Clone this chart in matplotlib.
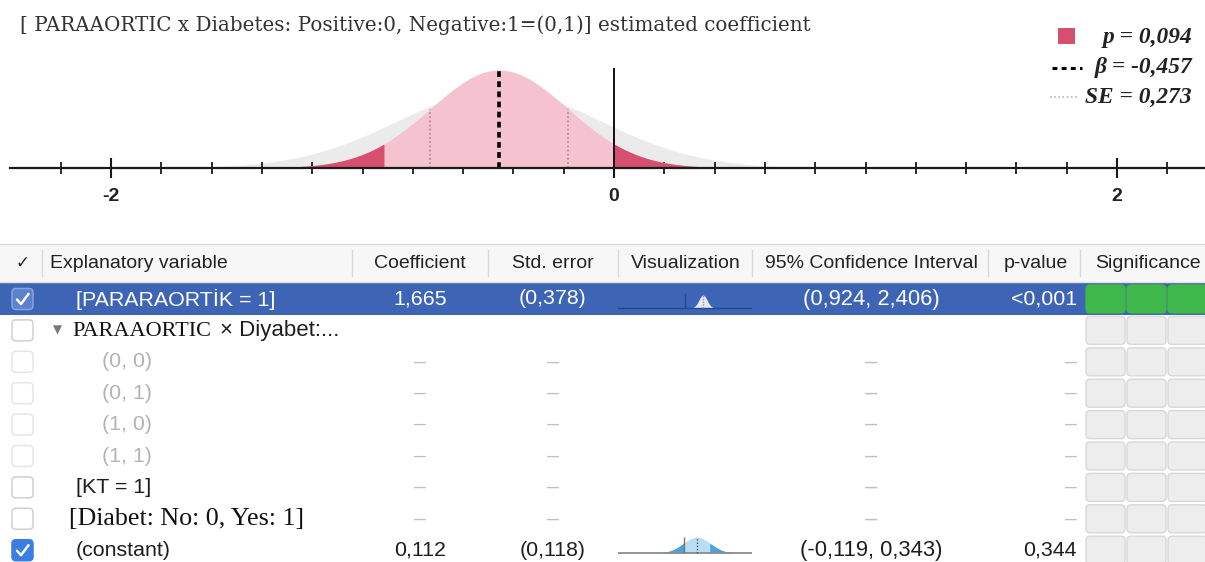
import numpy as np
import matplotlib
matplotlib.use("Agg")
import matplotlib.pyplot as plt
from matplotlib.patches import FancyBboxPatch, Rectangle
from matplotlib.ticker import FixedLocator, NullFormatter

W, H = 1205, 562

# ---------------- data ----------------
title_text = "[ PARAAORTIC x Diabetes: Positive:0, Negative:1=(0,1)] estimated coefficient"
beta = -0.457
se = 0.273
p_value = 0.094
legend_labels = ["p = 0,094", "\u03b2 = -0,457", "SE = 0,273"]
major_ticks = [-2, 0, 2]
major_tick_labels = ["-2", "0", "2"]
minor_ticks = [-2.2, -1.8, -1.6, -1.4, -1.2, -1.0, -0.8, -0.6, -0.4, -0.2,
               0.2, 0.4, 0.6, 0.8, 1.0, 1.2, 1.4, 1.6, 1.8, 2.2]
gray_sd = 0.40          # width of the background (grey) distribution
gray_peak = 0.80        # its height relative to the pink peak

columns = ["Explanatory variable", "Coefficient", "Std. error", "Visualization",
           "95% Confidence Interval", "p-value", "Significance"]
variables = ["[PARARAORT\u0130K = 1]", "PARAAORTIC \u00d7 Diyabet:...", "(0, 0)", "(0, 1)",
             "(1, 0)", "(1, 1)", "[KT = 1]", "[Diabet: No: 0, Yes: 1]", "(constant)"]
coefficients = ["1,665", "", "\u2013", "\u2013", "\u2013", "\u2013", "\u2013", "\u2013", "0,112"]
std_errors = ["(0,378)", "", "\u2013", "\u2013", "\u2013", "\u2013", "\u2013", "\u2013", "(0,118)"]
conf_intervals = ["(0,924, 2,406)", "", "\u2013", "\u2013", "\u2013", "\u2013", "\u2013", "\u2013",
                  "(-0,119, 0,343)"]
p_values = ["<0,001", "", "\u2013", "\u2013", "\u2013", "\u2013", "\u2013", "\u2013", "0,344"]
checked = [True, False, False, False, False, False, False, False, True]
significance = [3, 0, 0, 0, 0, 0, 0, 0, 0]
viz_coef = {0: 1.665, 8: 0.112}
viz_se = {0: 0.378, 8: 0.118}
viz_xlim = {0: (-6.2, 6.2), 8: (-0.57, 0.59)}

# ---------------- styling ----------------
SANS = ["Liberation Sans", "DejaVu Sans"]
SERIF = ["Liberation Serif", "DejaVu Serif"]
PINK = "#f5c3cf"
DARK_PINK = "#d64f6e"
GRAY = "#ebebeb"
ROW_FS = 15.4

fig = plt.figure(figsize=(W / 100, H / 100), dpi=100)
fig.patch.set_facecolor("white")


def fx(px):
    return px / W


def fy(py):
    return 1 - py / H


# overlay axes in pixel coordinates (table, legend)
ov = fig.add_axes([0, 0, 1, 1])
ov.set_xlim(0, W)
ov.set_ylim(H, 0)
ov.axis("off")

# ---------------- top distribution chart ----------------
PX_UNIT = 251.5      # pixels per coefficient unit
ZERO_PX = 614
AXIS_PY = 168
PEAK_PX = 98.0
TOP_H = 230
ax = fig.add_axes([0, fy(TOP_H), 1, TOP_H / H])
ax.set_facecolor("none")
ax.set_xlim(-ZERO_PX / PX_UNIT, (W - ZERO_PX) / PX_UNIT)
ax.set_ylim((AXIS_PY - TOP_H) / PEAK_PX, AXIS_PY / PEAK_PX)

x = np.linspace(-2.44, 2.35, 3000)
pink = np.exp(-0.5 * ((x - beta) / se) ** 2)
grey = gray_peak * np.exp(-0.5 * ((x - beta) / gray_sd) ** 2)
ax.fill_between(x, 0, grey, color=GRAY, lw=0, zorder=1)
ax.fill_between(x, 0, pink, color=PINK, lw=0, zorder=2)
lo_crit = beta - abs(beta)
hi_crit = beta + abs(beta)
ax.fill_between(x, 0, pink, where=x <= lo_crit, color=DARK_PINK, lw=0, zorder=3)
ax.fill_between(x, 0, pink, where=x >= hi_crit, color=DARK_PINK, lw=0, zorder=3)

# SE dotted lines and beta dashed line
se_h = np.exp(-0.5)
ax.vlines([beta - se, beta + se], 0, se_h, colors="#b08390", lw=1.2,
          linestyles=(0, (1, 1.5)), zorder=4)
ax.vlines(beta, 0, 1.0, colors="black", lw=2.6, linestyles=(0, (1.6, 1.2)), zorder=5)
# zero reference line
ax.vlines(0, -9 / PEAK_PX, 100 / PEAK_PX, colors="#111111", lw=1.4, zorder=5)

for s in ["top", "right", "left"]:
    ax.spines[s].set_visible(False)
ax.spines["bottom"].set_position(("data", 0))
ax.spines["bottom"].set_bounds(-2.40, 2.35)
ax.spines["bottom"].set_linewidth(1.6)
ax.spines["bottom"].set_color("#1a1a1a")
ax.spines["bottom"].set_zorder(6)
ax.set_yticks([])
ax.xaxis.set_major_locator(FixedLocator(major_ticks))
ax.set_xticklabels(major_tick_labels)
ax.xaxis.set_minor_locator(FixedLocator(minor_ticks))
ax.xaxis.set_minor_formatter(NullFormatter())
ax.tick_params(axis="x", which="major", direction="inout", length=15, width=1.5,
               color="#1a1a1a", pad=7, labelsize=14)
ax.tick_params(axis="x", which="minor", direction="inout", length=8, width=1.3,
               color="#1a1a1a")
for lab in ax.get_xticklabels():
    lab.set_fontfamily(SANS)
    lab.set_fontweight("bold")
    lab.set_color("#222222")

# title
fig.text(fx(20), fy(25), title_text, ha="left", va="center", fontsize=14.3,
         family=["DejaVu Serif"], color="#333333")

# legend
ov.add_patch(Rectangle((1058, 28), 17, 16, facecolor=DARK_PINK, edgecolor="none"))
ov.plot([1052, 1082], [68, 68], color="black", lw=2.2, linestyle=(0, (1.6, 1.4)))
ov.plot([1050, 1078], [97, 97], color="#b5b5b5", lw=1.2, linestyle=(0, (1, 1.5)))
for label, py in zip(legend_labels, [37, 68, 97]):
    ov.text(1192, py, label, ha="right", va="center", fontsize=16.8, style="italic",
            family=SERIF, color="#222222", fontweight="bold")

# ---------------- table ----------------
HEAD_TOP, HEAD_BOT = 244, 282
ov.add_patch(Rectangle((0, HEAD_TOP), W, HEAD_BOT - HEAD_TOP, facecolor="#f7f7f7",
                       edgecolor="none"))
ov.plot([0, W], [HEAD_TOP, HEAD_TOP], color="#d9d9d9", lw=1)
ov.plot([0, W], [HEAD_BOT, HEAD_BOT], color="#e2e2e2", lw=1)
for sx in [42, 352, 488, 618, 752, 988, 1080]:
    ov.plot([sx, sx], [250, 276], color="#d9d9d9", lw=1)
HEAD_Y = 263
ov.text(22, HEAD_Y, "\u2713", ha="center", va="center", fontsize=12,
        family=["DejaVu Sans"], color="#222222")
head_pos = [(50, "left"), (420, "center"), (553, "center"), (686, "center"),
            (871, "center"), (1036, "center"), (1095, "left")]
for (hx, ha), name in zip(head_pos, columns):
    ov.text(hx, HEAD_Y, name, ha=ha, va="center", fontsize=14, family=SANS,
            color="#222222")

ROW0, ROW_H = 299, 31.4
SEL_TOP, SEL_BOT = 283, 315
ov.add_patch(Rectangle((0, SEL_TOP), W, SEL_BOT - SEL_TOP, facecolor="#3e65b5",
                       edgecolor="none"))

label_style = ["selected", "group", "sub", "sub", "sub", "sub", "plain", "serif", "plain"]

for i, var in enumerate(variables):
    c = ROW0 + ROW_H * i
    sel = label_style[i] == "selected"
    txt_color = "white" if sel else "#1e1e1e"
    # checkbox
    if checked[i]:
        fc, ec = ("#5b82cc", "#86a3db") if sel else ("#3b7ee0", "#3b7ee0")
    else:
        fc, ec = "white", ("#e6e6e6" if label_style[i] == "sub" else "#cfcfcf")
    ov.add_patch(FancyBboxPatch((12, c - 10.5), 21, 21,
                                boxstyle="round,pad=0,rounding_size=4",
                                facecolor=fc, edgecolor=ec, lw=1.1))
    if checked[i]:
        ov.plot([17, 21, 28.5], [c + 0.5, c + 5, c - 5], color="white", lw=1.8,
                solid_capstyle="round", solid_joinstyle="round")
    # label
    st = label_style[i]
    if st == "group":
        ov.text(57, c, "\u25bc", ha="center", va="center", fontsize=8.5,
                family=["DejaVu Sans"], color="#777777")
        first, second = var.split(" \u00d7 ")
        ov.text(72, c + 1, first, ha="left", va="center", fontsize=16, family=SERIF,
                color="#111111")
        ov.text(220, c, "\u00d7 " + second, ha="left", va="center", fontsize=16,
                family=SANS, color="#1e1e1e")
    elif st == "sub":
        ov.text(102, c, var, ha="left", va="center", fontsize=ROW_FS, family=SANS,
                color="#b3b3b3")
    elif st == "serif":
        ov.text(69, c, var, ha="left", va="center", fontsize=18.7, family=SERIF,
                color="#111111")
    else:
        ov.text(76, c, var, ha="left", va="center", fontsize=ROW_FS, family=SANS,
                color=txt_color)
    # numeric columns
    dash = coefficients[i] == "\u2013"
    vcol = "#c0c0c0" if dash else txt_color
    ov.text(420, c, coefficients[i], ha="center", va="center", fontsize=ROW_FS,
            family=SANS, color=vcol)
    ov.text(553, c, std_errors[i], ha="center", va="center", fontsize=ROW_FS,
            family=SANS, color=vcol)
    ov.text(871, c, conf_intervals[i], ha="center", va="center", fontsize=ROW_FS + 0.4,
            family=SANS, color=vcol)
    ov.text(1077, c, p_values[i], ha="right", va="center", fontsize=ROW_FS,
            family=SANS, color=vcol)
    # significance cells
    for k, cx in enumerate([1086, 1127, 1168]):
        green = k < significance[i]
        ov.add_patch(FancyBboxPatch((cx, c - 14), 39, 28,
                                    boxstyle="round,pad=0,rounding_size=4",
                                    facecolor="#3fb74a" if green else "#ededed",
                                    edgecolor="#3fb74a" if green else "#d8d8d8",
                                    lw=1))

# ---------------- mini visualizations ----------------
for i, (coef, s) in zip(viz_coef.keys(), zip(viz_coef.values(), viz_se.values())):
    c = ROW0 + ROW_H * i
    base = c + 9 if i == 0 else c + 3
    top_py, bot_py = base - 20, base + 2
    iax = fig.add_axes([fx(618), fy(bot_py), 134 / W, (bot_py - top_py) / H])
    iax.set_facecolor("none")
    iax.axis("off")
    iax.set_xlim(*viz_xlim[i])
    iax.set_ylim(-2, 20)
    xv = np.linspace(viz_xlim[i][0], viz_xlim[i][1], 800)
    if i == 0:
        hgt = 13
        yv = hgt * np.exp(-0.5 * ((xv - coef) / s) ** 2)
        iax.fill_between(xv, 0, yv, color="#e3e9f5", lw=0)
        iax.axhline(0, color="#29488a", lw=1)
        iax.vlines(0, 0, 15, colors="#29488a", lw=1)
        iax.vlines(coef, 0, hgt, colors="#8a8f99", lw=1, linestyles=(0, (1, 1)))
    else:
        hgt = 16
        yv = hgt * np.exp(-0.5 * ((xv - coef) / s) ** 2)
        iax.fill_between(xv, 0, yv, color="#b9def4", lw=0)
        iax.fill_between(xv, 0, yv, where=xv <= 0, color="#4aa3da", lw=0)
        iax.fill_between(xv, 0, yv, where=xv >= 2 * coef, color="#4aa3da", lw=0)
        iax.axhline(0, color="#8c8c8c", lw=1.3)
        iax.vlines(0, 0, 16, colors="#777777", lw=1)
        iax.vlines(coef, 0, hgt, colors="#555555", lw=1, linestyles=(0, (1, 1.3)))

fig.savefig("out.png", dpi=100, facecolor="white")
